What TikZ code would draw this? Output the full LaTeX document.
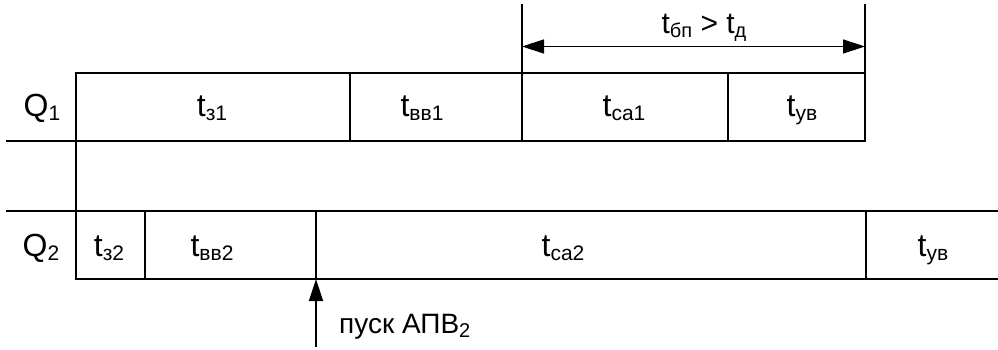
\documentclass[tikz,border=0pt]{standalone}
\usepackage{fontspec}
\setmainfont{Liberation Sans}
\usetikzlibrary{arrows.meta}
\newcommand{\lsub}[1]{\raisebox{-4pt}{\fontsize{21}{21}\selectfont #1}}
\newcommand{\tsub}[1]{\raisebox{-4pt}{\fontsize{20}{20}\selectfont #1}}
\tikzset{
  ln/.style={line width=1.4pt, line cap=rect},
  lbl/.style={anchor=base, inner sep=0pt, font=\fontsize{32}{34}\selectfont},
  dimarrow/.style={line width=1.4pt, {Triangle[length=22pt,width=14pt]}-{Triangle[length=22pt,width=14pt]}},
  uparrow/.style={line width=1.4pt, -{Triangle[length=22pt,width=14pt]}}
}
\begin{document}
\begin{tikzpicture}[x=1pt,y=-1pt]
\useasboundingbox (0,0) rectangle (998,350);
% key coordinates
\coordinate (a1) at (76,73);
\coordinate (a2) at (865,73);
\coordinate (b0) at (7,141);
\coordinate (b2) at (865,141);
\coordinate (c0) at (7,211);
\coordinate (c2) at (998,211);
\coordinate (d1) at (76,279);
\coordinate (d2) at (998,279);
% Q1 row
\draw[ln] (a1) -- (a2);
\draw[ln] (b0) -- (b2);
\draw[ln] (a1) -- (d1);
\draw[ln] (350,73) -- (350,141);
\coordinate (v1t) at (522,5);
\coordinate (v1b) at (522,141);
\coordinate (v2t) at (865,5);
\coordinate (v2b) at (865,141);
\draw[ln] (v1t) -- (v1b);
\draw[ln] (728,73) -- (728,141);
\draw[ln] (v2t) -- (v2b);
% dimension arrow
\coordinate (dl) at (522,46.5);
\coordinate (dr) at (865,46.5);
\draw[dimarrow] (dl) -- (dr);
\node[lbl, font=\fontsize{30}{32}\selectfont] (tbp) at (704,34) {t\tsub{бп} > t\tsub{д}};
% Q2 row
\draw[ln] (c0) -- (c2);
\draw[ln] (d1) -- (d2);
\draw[ln] (145,211) -- (145,279);
\coordinate (p) at (316,279);
\draw[ln] (316,211) -- (p);
\draw[ln] (866,211) -- (866,279);
\coordinate (ps) at (316,347);
\draw[uparrow] (ps) -- (p);
% labels
\node[lbl] (q1) at (42,117) {Q\lsub{1}};
\node[lbl] (tz1) at (212,117) {t\lsub{з1}};
\node[lbl] (tvv1) at (422,117) {t\lsub{вв1}};
\node[lbl] (tsa1) at (624,117) {t\lsub{са1}};
\node[lbl] (tuv1) at (802,117) {t\lsub{ув}};
\node[lbl] (q2) at (41,256) {Q\lsub{2}};
\node[lbl] (tz2) at (109,256) {t\lsub{з2}};
\node[lbl] (tvv2) at (212,256) {t\lsub{вв2}};
\node[lbl] (tsa2) at (563,256) {t\lsub{са2}};
\node[lbl] (tuv2) at (933,256) {t\lsub{ув}};
\node[lbl, anchor=base west, font=\fontsize{28}{30}\selectfont] (pusk) at (339,333) {пуск АПВ\tsub{2}};
\end{tikzpicture}
\end{document}
